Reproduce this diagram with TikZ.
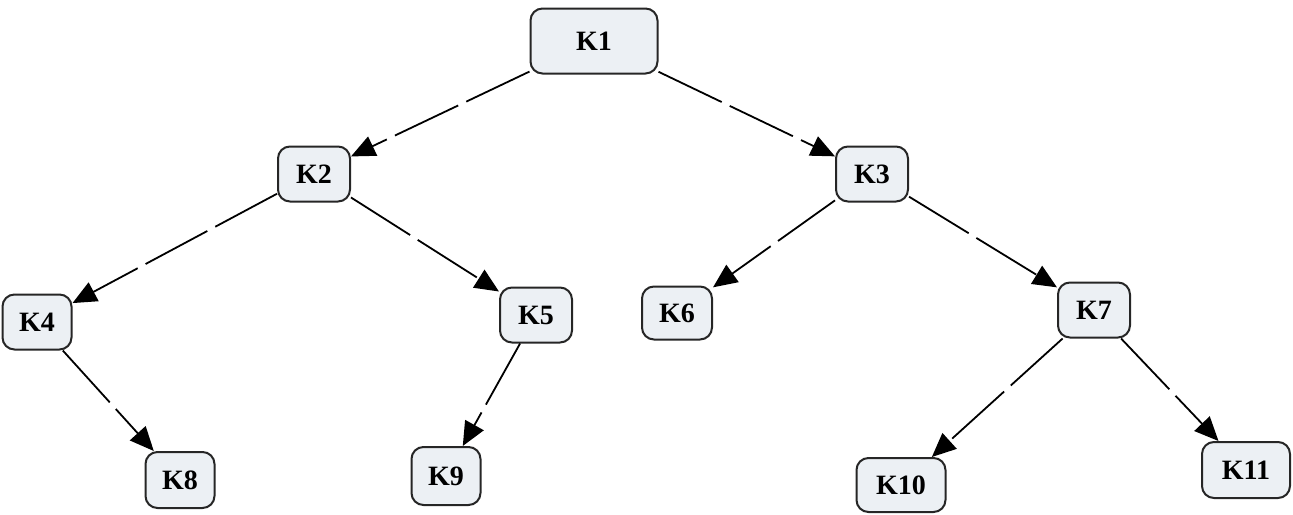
\documentclass[tikz,border=0pt]{standalone}
\usepackage{fontspec}
\setmainfont{Liberation Serif}
\usetikzlibrary{arrows.meta}
\begin{document}
\begin{tikzpicture}[x=1pt,y=-1pt,
  key/.style={draw=black!85, line width=2pt, rounded corners=12pt, fill={rgb,255:red,236;green,240;blue,244},
    font=\fontsize{28}{30}\selectfont\bfseries, inner sep=0pt, minimum width=72pt, minimum height=55pt},
  link/.style={line width=1.8pt, dash pattern=on 70pt off 9pt, -{Triangle[length=24pt,width=21pt]}}]
\useasboundingbox (0,0) rectangle (1293,514);
\node[key, minimum width=127pt, minimum height=65pt] (k1) at (594,41) {K1};
\node[key] (k2) at (314,174) {K2};
\node[key] (k3) at (872,174) {K3};
\node[key, minimum width=69pt] (k4) at (37,322) {K4};
\node[key] (k5) at (536,315) {K5};
\node[key, minimum width=70pt, minimum height=53pt] (k6) at (677,313) {K6};
\node[key] (k7) at (1094,310) {K7};
\node[key, minimum width=69pt, minimum height=56pt] (k8) at (180,480) {K8};
\node[key, minimum width=69pt, minimum height=58pt] (k9) at (446,476) {K9};
\node[key, minimum width=89pt, minimum height=54pt] (k10) at (901,485) {K10};
\node[key, minimum width=88pt, minimum height=56pt] (k11) at (1246,470) {K11};
\draw[link] (k1) -- (k2);
\draw[link] (k1) -- (k3);
\draw[link] (k2) -- (k4);
\draw[link] (k2) -- (k5);
\draw[link] (k3) -- (k6);
\draw[link] (k3) -- (k7);
\draw[link] (k4) -- (k8);
\draw[link] (k5) -- (k9);
\draw[link] (k7) -- (k10);
\draw[link] (k7) -- (k11);
\end{tikzpicture}
\end{document}
